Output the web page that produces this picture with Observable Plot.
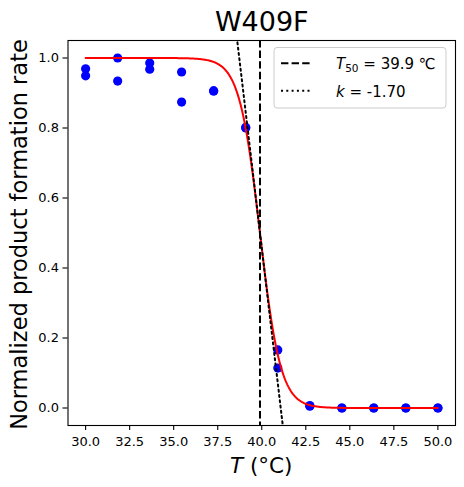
<!DOCTYPE html>
<html>
<head>
<meta charset="utf-8">
<script src="https://cdn.jsdelivr.net/npm/d3@7"></script>
<script src="https://cdn.jsdelivr.net/npm/@observablehq/plot@0.6"></script>
<style>
  html, body { margin: 0; padding: 0; background: white; }
</style>
</head>
<body>
<div id="chart"></div>
<script>
// ---- data ----
const titleText = "W409F";
const temps = [30, 31.82, 33.64, 35.45, 37.27, 39.09, 40.91, 42.73, 44.55, 46.36, 48.18, 50];
const rep1  = [0.969, 1.000, 0.986, 0.960, 0.906, 0.800, 0.166, 0.007, 0.000, 0.000, 0.000, 0.000];
const rep2  = [0.949, 0.934, 0.968, 0.874, 0.906, 0.802, 0.114, 0.005, 0.000, 0.000, 0.000, 0.000];
const T50 = 39.9;
const k = -1.70;
const xTicks = [30, 32.5, 35, 37.5, 40, 42.5, 45, 47.5, 50];
const yTicks = [0, 0.2, 0.4, 0.6, 0.8, 1.0];

// ---- derived tables ----
const points = temps.flatMap((t, i) => [{x: t, y: rep1[i]}, {x: t, y: rep2[i]}]);
// fitted logistic model from T50 and k
const curve = d3.range(30, 50.0001, 0.05).map(x => ({x, y: 1 / (1 + Math.exp(-k * (x - T50)))}));
// tangent at T50 (slope k/4)
const tangent = [38.3, 41.5].map(x => ({x, y: 0.5 + (k / 4) * (x - T50)}));

const W = 464, H = 487;
const mL = 67.5, mR = 9, mT = 40, mB = 62;

const plot = Plot.plot({
  width: W, height: H,
  marginLeft: mL, marginRight: mR, marginTop: mT, marginBottom: mB,
  x: {domain: [29, 51]},
  y: {domain: [-0.05, 1.05]},
  style: {fontFamily: "DejaVu Sans", fontSize: "13px", background: "white", color: "black", overflow: "visible"},
  marks: [
    Plot.axisX({ticks: xTicks, tickFormat: d3.format(".1f"), tickSize: 5, tickPadding: 6, label: null, fontSize: 13, stroke: "black", strokeWidth: 1.1}),
    Plot.axisY({ticks: yTicks, tickFormat: d3.format(".1f"), tickSize: 5, tickPadding: 4, label: null, fontSize: 13, stroke: "black", strokeWidth: 1.1}),
    Plot.dot(points, {x: "x", y: "y", r: 4.6, fill: "#0000ff", stroke: null}),
    Plot.line(curve, {x: "x", y: "y", stroke: "#ff0000", strokeWidth: 2}),
    Plot.line(tangent, {x: "x", y: "y", stroke: "black", strokeWidth: 2, strokeDasharray: "2,3.3", clip: true}),
    Plot.ruleX([T50], {stroke: "black", strokeWidth: 2, strokeDasharray: "7.4,3.2"}),
    Plot.frame({stroke: "black", strokeWidth: 1.1}),
    Plot.text([titleText], {frameAnchor: "top", dy: -10, lineAnchor: "bottom", fontSize: 27, fill: "black"})
  ]
});

document.getElementById("chart").appendChild(plot);

const svg = d3.select(plot);
const cx = mL + (W - mL - mR) / 2;
const cy = mT + (H - mT - mB) / 2;

// x label
const xl = svg.append("text")
  .attr("x", cx).attr("y", 473)
  .attr("text-anchor", "middle")
  .attr("font-size", 21.5).attr("fill", "black");
xl.append("tspan").attr("font-style", "italic").text("T");
xl.append("tspan").text(" (°C)");

// y label
svg.append("text")
  .attr("transform", `translate(27,${cy + 2}) rotate(-90)`)
  .attr("text-anchor", "middle")
  .attr("font-size", 22.5).attr("fill", "black")
  .text("Normalized product formation rate");

// legend
const lg = svg.append("g").attr("text-anchor", "start");
lg.append("rect")
  .attr("x", 274).attr("y", 47.5).attr("width", 172).attr("height", 60.5)
  .attr("rx", 3).attr("fill", "white").attr("fill-opacity", 0.8)
  .attr("stroke", "#cccccc").attr("stroke-width", 1);
lg.append("line").attr("x1", 281).attr("x2", 311).attr("y1", 63.3).attr("y2", 63.3)
  .attr("stroke", "black").attr("stroke-width", 2).attr("stroke-dasharray", "7.4,3.2");
lg.append("line").attr("x1", 281).attr("x2", 311).attr("y1", 90.7).attr("y2", 90.7)
  .attr("stroke", "black").attr("stroke-width", 2).attr("stroke-dasharray", "2,3.3");
const t1 = lg.append("text").attr("x", 336).attr("y", 69).attr("text-anchor", "start").attr("font-size", 15).attr("fill", "black");
t1.append("tspan").attr("font-style", "italic").text("T");
t1.append("tspan").attr("font-size", 10.5).attr("dy", 3).text("50");
t1.append("tspan").attr("dy", -3).text(" = " + T50.toFixed(1) + " ℃");
const t2 = lg.append("text").attr("x", 336).attr("y", 96.5).attr("text-anchor", "start").attr("font-size", 15).attr("fill", "black");
t2.append("tspan").attr("font-style", "italic").text("k");
t2.append("tspan").text(" = " + k.toFixed(2));
</script>
</body>
</html>
